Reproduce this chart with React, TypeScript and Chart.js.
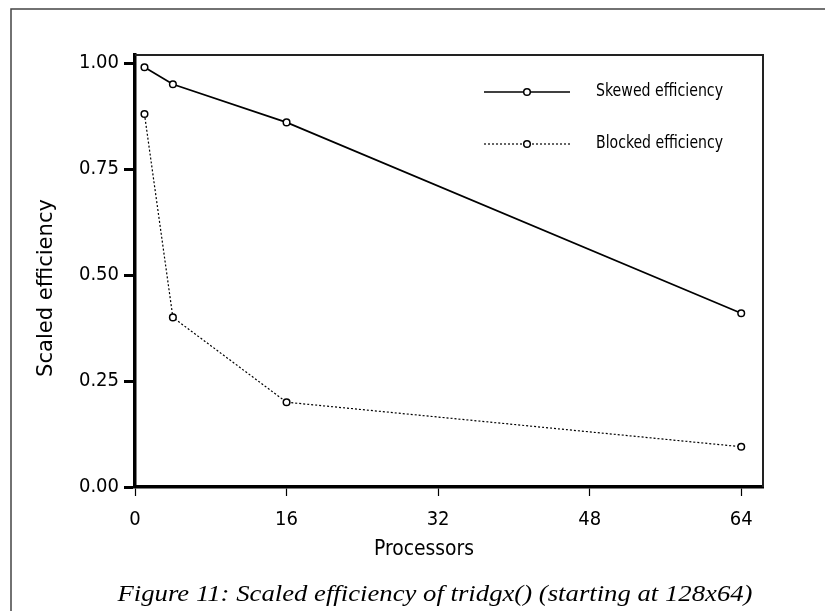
import React, { useEffect, useRef } from "react";
import { Chart, registerables } from "chart.js";

Chart.register(...registerables);

const processors = [1, 4, 16, 64];
const skewed = [0.99, 0.95, 0.86, 0.41];
const blocked = [0.88, 0.4, 0.2, 0.095];
const xTicks = [0, 16, 32, 48, 64];
const yTicks = [0, 0.25, 0.5, 0.75, 1.0];
const seriesLabels = ["Skewed efficiency", "Blocked efficiency"];
const xTitle = "Processors";
const yTitle = "Scaled efficiency";
const caption = "Figure 11: Scaled efficiency of tridgx() (starting at 128x64)";

const NARROW = '"Liberation Sans Narrow", "DejaVu Sans Condensed", "Liberation Sans", Arial, sans-serif';
const SERIF = '"Liberation Serif", "DejaVu Serif", serif';

function fitText(
  ctx: CanvasRenderingContext2D,
  text: string,
  cx: number,
  cy: number,
  font: string,
  targetWidth: number,
  align: "center" | "left",
  baseline: CanvasTextBaseline,
  rotate = false
) {
  ctx.save();
  ctx.font = font;
  const w = ctx.measureText(text).width;
  const sx = targetWidth / w;
  ctx.translate(cx, cy);
  if (rotate) ctx.rotate(-Math.PI / 2);
  ctx.scale(sx, 1);
  ctx.textAlign = align;
  ctx.textBaseline = baseline;
  ctx.fillText(text, 0, 0);
  ctx.restore();
}

const decorPlugin = {
  id: "decor",
  afterDraw(chart: any) {
    const ctx = chart.ctx as CanvasRenderingContext2D;
    const a = chart.chartArea;
    ctx.save();
    // outer figure frame (left + top)
    ctx.strokeStyle = "#444";
    ctx.lineWidth = 1.5;
    ctx.beginPath();
    ctx.moveTo(11, 611);
    ctx.lineTo(11, 9);
    ctx.lineTo(825, 9);
    ctx.stroke();
    // top and right border of plot box
    ctx.strokeStyle = "#222";
    ctx.lineWidth = 2;
    ctx.beginPath();
    ctx.moveTo(a.left, a.top);
    ctx.lineTo(a.right, a.top);
    ctx.lineTo(a.right, a.bottom);
    ctx.stroke();

    ctx.fillStyle = "#000";
    // axis titles
    fitText(ctx, xTitle, 424, 550, "21px " + NARROW, 100, "center", "middle");
    fitText(ctx, yTitle, 46, 288, "22px " + NARROW, 178, "center", "middle", true);

    // caption
    fitText(ctx, caption, 435, 601, "italic 24px " + SERIF, 635, "center", "alphabetic");

    // legend inside plot
    const ds = chart.data.datasets;
    const rows = [92, 144];
    ds.forEach((d: any, i: number) => {
      const y = rows[i];
      ctx.strokeStyle = "#000";
      ctx.lineWidth = d.borderWidth;
      ctx.setLineDash(d.borderDash || []);
      ctx.beginPath();
      ctx.moveTo(484, y);
      ctx.lineTo(570, y);
      ctx.stroke();
      ctx.setLineDash([]);
      ctx.lineWidth = d.pointBorderWidth;
      ctx.fillStyle = "#fff";
      ctx.beginPath();
      ctx.arc(527, y, d.pointRadius, 0, Math.PI * 2);
      ctx.fill();
      ctx.stroke();
      ctx.fillStyle = "#000";
      fitText(ctx, d.label, 596, y, "17px " + NARROW, 127, "left", "middle");
    });
    ctx.restore();
  },
};

export default function App() {
  const ref = useRef<HTMLCanvasElement>(null);
  useEffect(() => {
    if (!ref.current) return;
    const chart = new Chart(ref.current, {
      type: "line",
      data: {
        datasets: [
          {
            label: seriesLabels[0],
            data: processors.map((p, i) => ({ x: p, y: skewed[i] })),
            borderColor: "#000",
            borderWidth: 1.7,
            pointRadius: 3.3,
            pointBorderWidth: 1.5,
            pointBackgroundColor: "#fff",
            pointBorderColor: "#000",
            tension: 0,
          },
          {
            label: seriesLabels[1],
            data: processors.map((p, i) => ({ x: p, y: blocked[i] })),
            borderColor: "#000",
            borderWidth: 1.2,
            borderDash: [2, 2],
            pointRadius: 3.3,
            pointBorderWidth: 1.5,
            pointBackgroundColor: "#fff",
            pointBorderColor: "#000",
            tension: 0,
          },
        ],
      },
      options: {
        animation: false,
        responsive: false,
        devicePixelRatio: 1,
        layout: { padding: { left: 0, top: 55, right: 62, bottom: 0 } },
        plugins: { legend: { display: false }, tooltip: { enabled: false } },
        scales: {
          x: {
            type: "linear",
            min: 0,
            max: 66.3,
            afterBuildTicks: (s: any) => {
              s.ticks = xTicks.map((v) => ({ value: v }));
            },
            afterFit: (s: any) => {
              s.height = 124;
            },
            grid: { drawOnChartArea: false, drawTicks: true, tickLength: 9, tickWidth: 1.2, color: "#000" },
            border: { display: true, width: 3.5, color: "#000" },
            ticks: { padding: 12, color: "#000", font: { family: NARROW, size: 20 }, maxRotation: 0 },
          },
          y: {
            type: "linear",
            min: 0,
            max: 1.019,
            afterBuildTicks: (s: any) => {
              s.ticks = yTicks.map((v) => ({ value: v }));
            },
            afterFit: (s: any) => {
              s.width = 135;
            },
            grid: { drawOnChartArea: false, drawTicks: true, tickLength: 11, tickWidth: 3, color: "#000" },
            border: { display: true, width: 3.5, color: "#000" },
            ticks: {
              padding: 5,
              color: "#000",
              font: { family: NARROW, size: 20 },
              callback: (v: any) => Number(v).toFixed(2),
            },
          },
        },
      },
      plugins: [decorPlugin],
    });
    return () => chart.destroy();
  }, []);
  return (
    <div style={{ position: "fixed", left: 0, top: 0, width: 825, height: 611, background: "#fff" }}>
      <canvas ref={ref} width={825} height={611} style={{ display: "block" }} />
    </div>
  );
}
